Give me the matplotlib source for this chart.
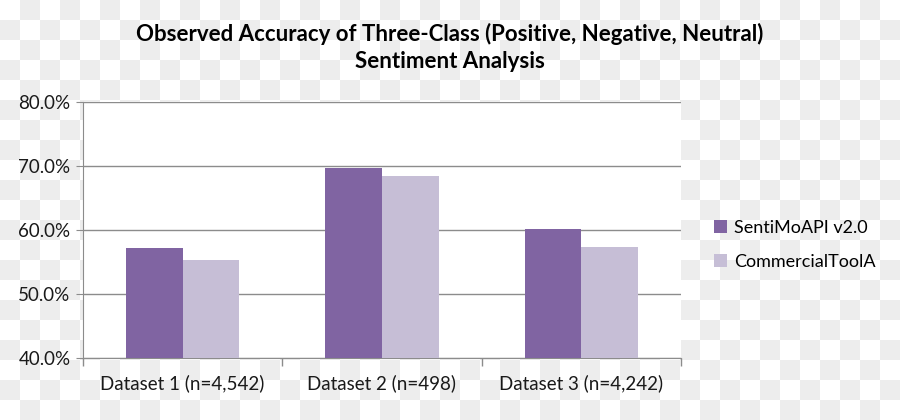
import numpy as np
import matplotlib
matplotlib.use("Agg")
import matplotlib.pyplot as plt
from matplotlib.ticker import FuncFormatter, FixedLocator

# data
datasets = ["Dataset 1 (n=4,542)", "Dataset 2 (n=498)", "Dataset 3 (n=4,242)"]
sentimo = [57.1, 69.6, 60.2]
commercial = [55.3, 68.4, 57.3]
series_names = ["SentiMoAPI v2.0", "CommercialToolA"]
colors = ["#8064A2", "#C6BED6"]

plt.rcParams['font.family'] = ['Lato', 'DejaVu Sans']

fig = plt.figure(figsize=(9, 4.2), dpi=100)
fig.patch.set_facecolor("white")

# checkered background like the source image
sq = 20
h, w = 420, 900
yy, xx = np.mgrid[0:h, 0:w]
chk = ((yy // sq + xx // sq) % 2).astype(float)
bg = np.where(chk[..., None] == 1, 0.93, 1.0) * np.ones((1, 1, 3))
fig.figimage(bg, 0, 0, zorder=0)

ax = fig.add_axes([83 / 900, 1 - 358 / 420, (681 - 83) / 900, (358 - 101.7) / 420])
ax.set_facecolor("white")
ax.set_zorder(1)

x = np.arange(len(datasets))
bw = 0.285
ax.bar(x - bw / 2, sentimo, bw, color=colors[0], label=series_names[0], zorder=3)
ax.bar(x + bw / 2, commercial, bw, color=colors[1], label=series_names[1], zorder=3)

ax.set_ylim(40, 80)
ax.set_xlim(-0.5, 2.5)
ax.set_yticks([40, 50, 60, 70, 80])
ax.yaxis.set_major_formatter(FuncFormatter(lambda v, p: f"{v:.1f}%"))
ax.yaxis.grid(True, color="#8C8C8C", linewidth=1)
ax.set_axisbelow(True)

ax.set_xticks(x)
ax.set_xticklabels(datasets)
ax.tick_params(axis='x', length=0, labelsize=13.5, pad=12, colors="#1a1a1a")
ax.xaxis.set_minor_locator(FixedLocator([-0.5, 0.5, 1.5, 2.5]))
ax.tick_params(axis='x', which='minor', length=6, color="#8C8C8C", width=1)
ax.tick_params(axis='y', length=5, labelsize=13.5, pad=4, colors="#8C8C8C", labelcolor="#1a1a1a")

for s in ["top", "right"]:
    ax.spines[s].set_visible(False)
ax.spines["left"].set_color("#8C8C8C")
ax.spines["bottom"].set_color("#8C8C8C")

fig.text(0.5, 1 - 34 / 420, "Observed Accuracy of Three-Class (Positive, Negative, Neutral)",
         ha="center", va="center", fontsize=16, fontweight="bold")
fig.text(0.5, 1 - 62 / 420, "Sentiment Analysis",
         ha="center", va="center", fontsize=16, fontweight="bold")

fig.legend(loc="center left", bbox_to_anchor=(698 / 900, 1 - 245 / 420), frameon=False,
           fontsize=13, handlelength=0.7, handleheight=0.7, handletextpad=0.4,
           labelspacing=1.0)

fig.savefig("out.png", dpi=100)
